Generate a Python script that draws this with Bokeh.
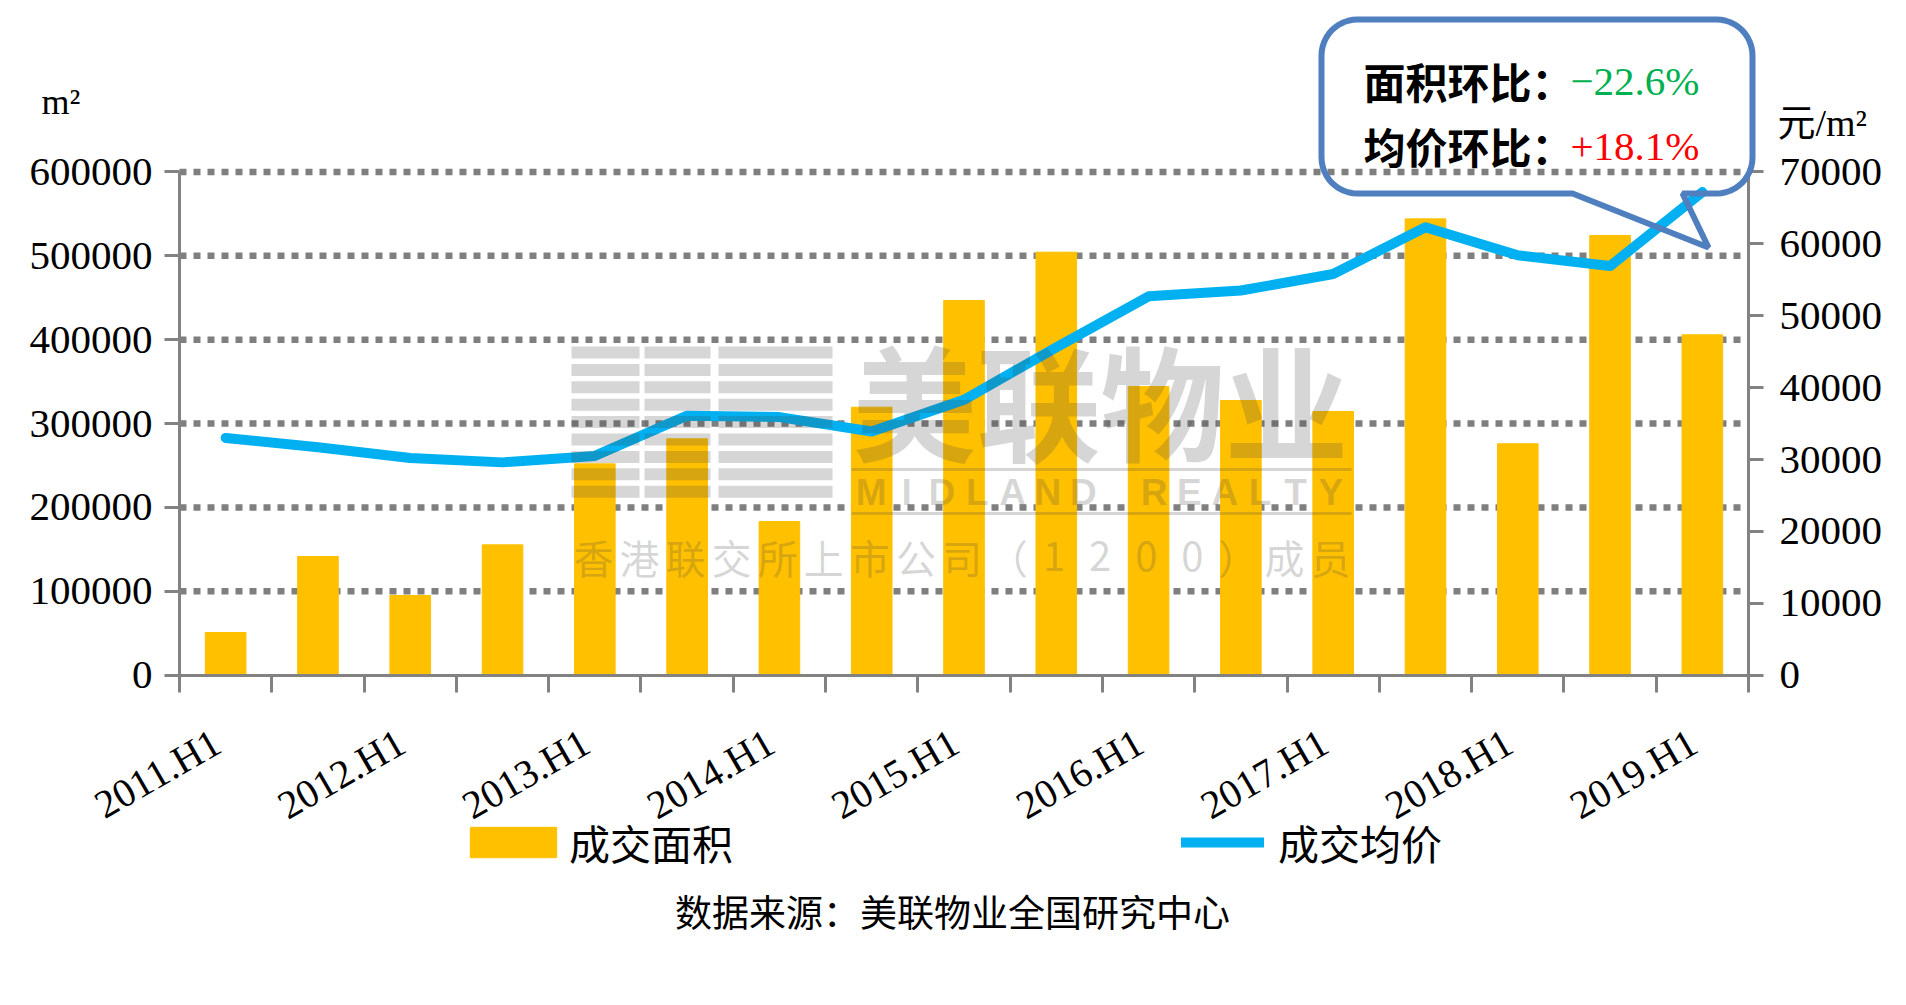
import math
from bokeh.plotting import figure
from bokeh.models import (Range1d, LinearAxis, FixedTicker, NumeralTickFormatter, Label,
                          Legend, LegendItem, PolyAnnotation, BoxAnnotation)
from bokeh.embed import file_html
from bokeh.resources import INLINE

# ---------------- data ----------------
periods = ["2011.H1", "2011.H2", "2012.H1", "2012.H2", "2013.H1", "2013.H2",
           "2014.H1", "2014.H2", "2015.H1", "2015.H2", "2016.H1", "2016.H2",
           "2017.H1", "2017.H2", "2018.H1", "2018.H2", "2019.H1"]
area = [50900, 141500, 95000, 155400, 252000, 281800, 183200, 319500, 446700,
        504300, 344100, 327500, 314400, 544000, 275900, 524200, 405800]
price = [33000, 31700, 30200, 29600, 30500, 36100, 35900, 33900, 38300,
         45600, 52700, 53500, 55800, 62300, 58400, 56900, 67200]
left_ticks = [0, 100000, 200000, 300000, 400000, 500000, 600000]
right_ticks = [0, 10000, 20000, 30000, 40000, 50000, 60000, 70000]
series_names = ["成交面积", "成交均价"]
callout_rows = [("面积环比：", "−22.6%"), ("均价环比：", "+18.1%")]
left_unit = "m²"
right_unit = "元/m²"
source_note = "数据来源：美联物业全国研究中心"
wm_title = "美联物业"
wm_en = "MIDLAND REALTY"
wm_sub = "香港联交所上市公司（1200）成员"

# ---------------- layout (pixels) ----------------
W, H = 1898, 997
AX_L, AX_R, AX_T, AX_B = 179, 1748, 171.4, 674.7
n = len(periods)
cat_px = (AX_R - AX_L) / n
x_start = -0.5 - AX_L / cat_px
x_end = x_start + W / cat_px
LMAX, RMAX = left_ticks[-1], right_ticks[-1]
ppu = (AX_B - AX_T) / LMAX
y_start = -(H - AX_B) / ppu
y_end = y_start + H / ppu
k_price = RMAX / LMAX

def ry(y):
    return H - y

GOLD = "#FFC000"
BLUE = "#00B0F0"
GRAY = "#828282"
SERIF = "Liberation Serif"
CJK = "Noto Sans CJK SC"

xs = list(range(n))

p = figure(frame_width=W, frame_height=H, output_backend="svg", toolbar_location=None,
           x_range=Range1d(x_start, x_end), y_range=Range1d(y_start, y_end),
           min_border=0)
p.outline_line_color = None
p.background_fill_color = "white"
p.border_fill_color = "white"
p.xgrid.visible = False
p.ygrid.visible = False

p.extra_y_ranges = {"price": Range1d(y_start * k_price, y_end * k_price)}
raxis = LinearAxis(y_range_name="price", ticker=FixedTicker(ticks=right_ticks),
                   formatter=NumeralTickFormatter(format="0"),
                   fixed_location=n - 0.5, bounds=(0, RMAX))
p.add_layout(raxis, "right")

laxis = p.yaxis[0]
laxis.ticker = FixedTicker(ticks=left_ticks)
laxis.formatter = NumeralTickFormatter(format="0")
laxis.fixed_location = -0.5
laxis.bounds = (0, LMAX)

for ax in [laxis, raxis]:
    ax.axis_line_color = GRAY
    ax.axis_line_width = 3
    ax.major_tick_line_color = GRAY
    ax.major_tick_line_width = 3
    ax.major_tick_out = 15
    ax.major_tick_in = 0
    ax.minor_tick_line_color = None
    ax.major_label_text_font = SERIF
    ax.major_label_text_font_size = "41px"
    ax.major_label_text_color = "black"
laxis.major_label_standoff = 12
raxis.major_label_standoff = 16

xa = p.xaxis[0]
xa.fixed_location = 0
xa.bounds = (-0.5, n - 0.5)
xa.ticker = FixedTicker(ticks=xs[::2], minor_ticks=[i - 0.5 for i in range(n + 1)])
xa.major_label_overrides = {i: periods[i] + "\u00a0" for i in xs[::2]}
xa.axis_line_color = GRAY
xa.axis_line_width = 3
xa.major_tick_line_color = None
xa.major_tick_out = 0
xa.major_tick_in = 0
xa.minor_tick_line_color = GRAY
xa.minor_tick_line_width = 3
xa.minor_tick_out = 17
xa.minor_tick_in = 0
xa.major_label_orientation = math.pi / 6
xa.major_label_standoff = 42
xa.major_label_text_font = SERIF
xa.major_label_text_font_size = "40px"
xa.major_label_text_color = "black"

# dotted grid lines between the two value axes
gt = left_ticks[1:]
p.segment(x0=[-0.5] * len(gt), x1=[n - 0.5] * len(gt), y0=gt, y1=gt,
          line_color="#7F7F7F", line_width=6.5, line_dash="7 7", level="underlay")

bars = p.vbar(x=xs, top=area, width=0.44, bottom=0, color=GOLD)
line = p.line(x=xs, y=price, y_range_name="price", line_color=BLUE, line_width=10,
              line_cap="round", line_join="round")

# legends (area glyph is drawn inset by 10% of the glyph box)
for item, r, gx, gw, sd in [(series_names[0], bars, 459, 108, 2),
                            (series_names[1], line, 1181, 83, 14)]:
    lg = Legend(items=[LegendItem(label=item, renderers=[r])], location=(gx, ry(872)),
                orientation="horizontal", glyph_width=gw, glyph_height=38, label_height=38,
                label_standoff=sd, padding=0, margin=0, spacing=0,
                border_line_color=None, background_fill_alpha=0,
                label_text_font=CJK, label_text_font_size="41px", label_text_color="black")
    p.add_layout(lg, "center")

# units
p.add_layout(Label(x=41, y=ry(101), x_units="screen", y_units="screen", text=left_unit,
                   text_font=SERIF, text_font_size="36px", text_color="black",
                   text_baseline="alphabetic"))
p.add_layout(Label(x=1777, y=ry(122), x_units="screen", y_units="screen", text=right_unit,
                   text_font="Liberation Serif, Noto Sans CJK SC", text_font_size="38px",
                   text_color="black", text_baseline="alphabetic"))

# source
p.add_layout(Label(x=952, y=ry(910), x_units="screen", y_units="screen", text=source_note,
                   text_font=CJK, text_font_size="37px", text_color="black",
                   text_align="center", text_baseline="middle"))

# watermark (translucent, on top)
WM = "#464646"
WA = 0.22
for col_l, col_r in [(571, 639), (644, 710), (718, 832)]:
    for k in range(9):
        top = 346 + k * 17.4
        p.add_layout(BoxAnnotation(left=col_l, right=col_r, top=ry(top), bottom=ry(top + 12),
                                   left_units="screen", right_units="screen",
                                   top_units="screen", bottom_units="screen",
                                   fill_color=WM, fill_alpha=WA, line_color=None, level="overlay"))
p.add_layout(Label(x=1100, y=ry(397), x_units="screen", y_units="screen", text=wm_title,
                   text_font=CJK, text_font_style="bold", text_font_size="124px",
                   text_color=WM, text_alpha=WA, text_align="center", text_baseline="middle",
                   level="overlay"))
for yy in [469, 513]:
    p.add_layout(BoxAnnotation(left=851, right=1351, top=ry(yy - 1.5), bottom=ry(yy + 1.5),
                               left_units="screen", right_units="screen",
                               top_units="screen", bottom_units="screen",
                               fill_color=WM, fill_alpha=WA, line_color=None, level="overlay"))
slot = (1348 - 853) / len(wm_en)
for k, ch in enumerate(wm_en):
    if ch == " ":
        continue
    p.add_layout(Label(x=853 + slot * (k + 0.5), y=ry(492), x_units="screen", y_units="screen",
                       text=ch, text_font="Liberation Sans", text_font_style="bold",
                       text_font_size="37px", text_color=WM, text_alpha=WA,
                       text_align="center", text_baseline="middle", level="overlay"))
slot2 = (1353 - 570) / len(wm_sub)
for k, ch in enumerate(wm_sub):
    p.add_layout(Label(x=570 + slot2 * (k + 0.5), y=ry(556), x_units="screen", y_units="screen",
                       text=ch, text_font=CJK, text_font_size="40px", text_color=WM,
                       text_alpha=WA, text_align="center", text_baseline="middle",
                       level="overlay"))

# callout bubble
L, R, T, B, rad = 1321, 1752, 19, 193, 36
pts = []
def arc(cx, cy, a0, a1, m=12):
    for k in range(m + 1):
        a = a0 + (a1 - a0) * k / m
        pts.append((cx + rad * math.cos(a), cy + rad * math.sin(a)))
arc(L + rad, T + rad, math.pi, 1.5 * math.pi)
arc(R - rad, T + rad, 1.5 * math.pi, 2 * math.pi)
arc(R - rad, B - rad, 0, 0.5 * math.pi)
pts += [(1682, B), (1708, 247), (1572, B)]
arc(L + rad, B - rad, 0.5 * math.pi, math.pi)
p.add_layout(PolyAnnotation(xs=[a for a, b in pts], ys=[ry(b) for a, b in pts],
                            xs_units="screen", ys_units="screen",
                            fill_alpha=0, line_color="#4F7FBF", line_alpha=1.0, line_width=6,
                            level="overlay"))
row_y = [80, 145]
val_colors = ["#00B050", "#FF0000"]
for (lab, val), yy, c in zip(callout_rows, row_y, val_colors):
    p.add_layout(Label(x=1363, y=ry(yy), x_units="screen", y_units="screen", text=lab,
                       text_font=CJK, text_font_style="bold", text_font_size="42px",
                       text_color="black", text_baseline="middle", level="overlay"))
    p.add_layout(Label(x=1570, y=ry(yy), x_units="screen", y_units="screen", text=val,
                       text_font=SERIF, text_font_size="41px",
                       text_color=c, text_baseline="middle", level="overlay"))

open("out.html", "w").write(file_html(p, INLINE))
